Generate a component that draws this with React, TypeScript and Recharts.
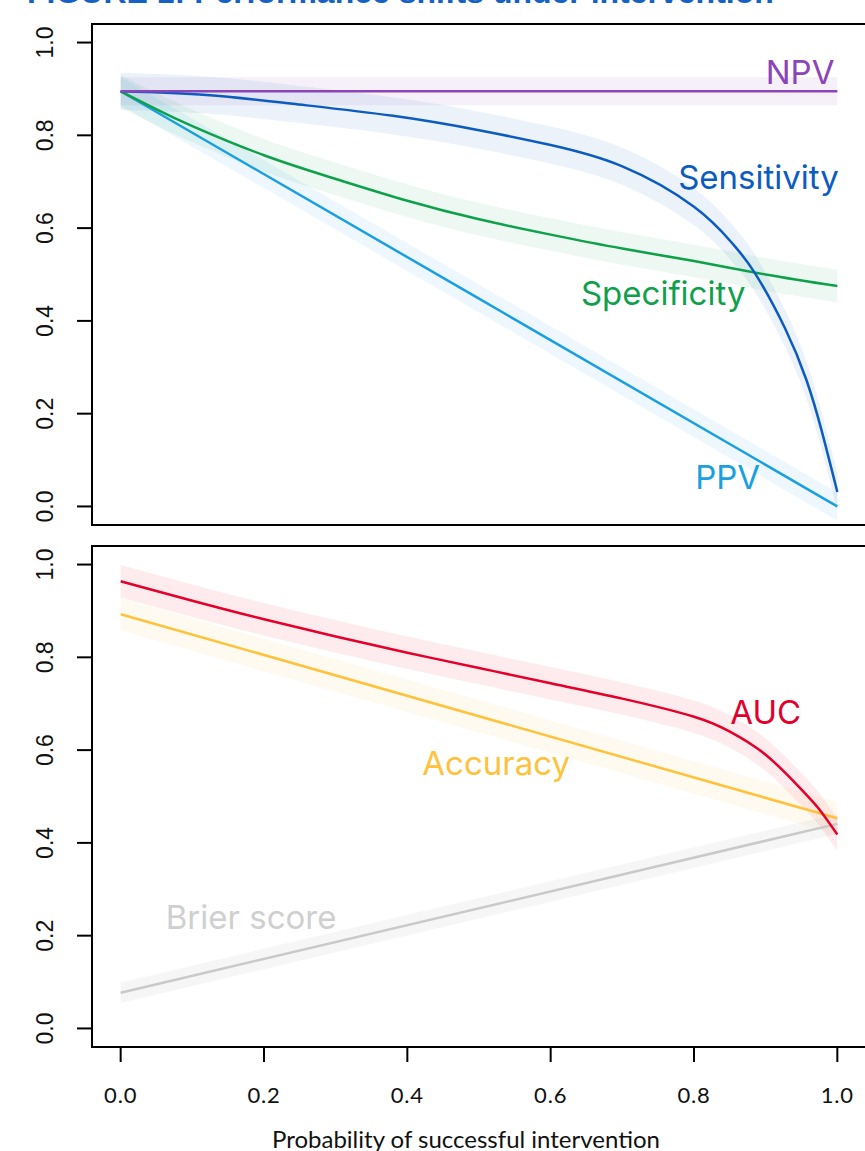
import React from 'react';
import { ComposedChart, Line, Area, XAxis, YAxis, ReferenceArea, ReferenceDot } from 'recharts';

const xTicks = [0, 0.2, 0.4, 0.6, 0.8, 1.0];
const yTicks = [0, 0.2, 0.4, 0.6, 0.8, 1.0];

// top panel
const npvX = [0, 0.25, 0.5, 0.75, 1];
const npvY = [0.895, 0.895, 0.895, 0.895, 0.895];
const sensX = [0, 0.12, 0.24, 0.38, 0.5, 0.6, 0.7, 0.8, 0.853, 0.885, 0.927, 0.957, 0.978, 1];
const sensY = [0.895, 0.887, 0.868, 0.842, 0.811, 0.779, 0.733, 0.646, 0.568, 0.503, 0.384, 0.272, 0.164, 0.031];
const specX = [0, 0.05, 0.1, 0.2, 0.3, 0.4, 0.5, 0.6, 0.7, 0.8, 0.9, 1];
const specY = [0.895, 0.856, 0.82, 0.757, 0.706, 0.659, 0.619, 0.586, 0.556, 0.529, 0.5, 0.475];
const ppvX = [0, 0.5, 1];
const ppvY = [0.895, 0.448, 0];

// bottom panel
const aucX = [0, 0.1, 0.2, 0.3, 0.4, 0.5, 0.6, 0.7, 0.8, 0.85, 0.9, 0.95, 0.975, 1];
const aucY = [0.964, 0.922, 0.882, 0.845, 0.81, 0.777, 0.744, 0.711, 0.672, 0.64, 0.59, 0.515, 0.472, 0.418];
const accX = [0, 1];
const accY = [0.893, 0.453];
const brierX = [0, 1];
const brierY = [0.077, 0.441];

// rough half-width of the point cloud around each line
const spread = { npv: 0.03, sens: 0.04, spec: 0.035, ppv: 0.03, auc: 0.035, acc: 0.035, brier: 0.022 };

const build = (xs: number[], ys: number[], s: number) =>
  xs.map((x, i) => ({ x, y: ys[i], band: [ys[i] - s, ys[i] + s] }));

const C = {
  npv: '#8b45b8',
  sens: '#0b5bc0',
  spec: '#0fa04c',
  ppv: '#1a9fe0',
  auc: '#e4002b',
  acc: '#ffc23a',
  brier: '#c9c9c9',
};

const LABEL_FONT = 'Inter, "Noto Sans", sans-serif';
const DOMAIN: [number, number] = [-0.04, 1.04];

const YTick = (props: any) => {
  const { y, payload } = props;
  return (
    <text
      x={45}
      y={y}
      transform={`rotate(-90 45 ${y})`}
      textAnchor="middle"
      dominantBaseline="central"
      fontFamily="'Liberation Sans', Arial, sans-serif"
      fontWeight={400}
      fontSize={23}
      fill="#111"
    >
      {payload.value.toFixed(1)}
    </text>
  );
};

const XTick = (props: any) => {
  const { x, y, payload } = props;
  return (
    <text
      x={x}
      y={y + 30}
      textAnchor="middle"
      dominantBaseline="central"
      fontFamily="Lato, sans-serif"
      fontWeight={400}
      fontSize={22}
      letterSpacing={0.8}
      fill="#111"
    >
      {payload.value.toFixed(1)}
    </text>
  );
};

const band = (data: any[], color: string, k: string) => (
  <Area
    key={k + '-band'}
    data={data}
    dataKey="band"
    type="natural"
    stroke="none"
    fill={color}
    fillOpacity={0.08}
    isAnimationActive={false}
  />
);

const lineEl = (data: any[], color: string, k: string) => (
  <Line
    key={k}
    data={data}
    dataKey="y"
    type="natural"
    stroke={color}
    strokeWidth={2.5}
    dot={false}
    activeDot={false}
    isAnimationActive={false}
  />
);

const tag = (x: number, y: number, text: string, color: string) => (
  <ReferenceDot
    key={text}
    x={x}
    y={y}
    r={0}
    fill="none"
    stroke="none"
    label={{ value: text, position: 'center', fill: color, fontSize: 33, fontFamily: LABEL_FONT }}
  />
);

export default function App() {
  const npv = build(npvX, npvY, spread.npv);
  const sens = build(sensX, sensY, spread.sens);
  const spec = build(specX, specY, spread.spec);
  const ppv = build(ppvX, ppvY, spread.ppv);
  const auc = build(aucX, aucY, spread.auc);
  const acc = build(accX, accY, spread.acc);
  const brier = build(brierX, brierY, spread.brier);

  return (
    <div style={{ position: 'absolute', left: 0, top: 0, width: 865, height: 1151, overflow: 'hidden', background: '#fff' }}>
      <svg width={865} height={12} style={{ position: 'absolute', left: 0, top: 0 }}>
        <text x={27} y={3} fontFamily="'Liberation Sans', Arial, sans-serif" fontWeight="bold" fontSize={32} fill="#1662c4">
          FIGURE 1: Performance shifts under intervention
        </text>
      </svg>

      <div style={{ position: 'absolute', left: 0, top: 0 }}>
        <ComposedChart width={866} height={530} margin={{ top: 24, right: 0, left: 0, bottom: 5 }}>
          <XAxis type="number" dataKey="x" domain={DOMAIN} allowDataOverflow hide />
          <YAxis
            type="number"
            domain={DOMAIN}
            allowDataOverflow
            ticks={yTicks}
            width={92}
            axisLine={false}
            tickSize={15}
            tickLine={{ stroke: '#000', strokeWidth: 2 }}
            tick={<YTick />}
          />
          {band(npv, C.npv, 'npv')}
          {band(sens, C.sens, 'sens')}
          {band(spec, C.spec, 'spec')}
          {band(ppv, C.ppv, 'ppv')}
          {lineEl(ppv, C.ppv, 'ppvl')}
          {lineEl(spec, C.spec, 'specl')}
          {lineEl(sens, C.sens, 'sensl')}
          {lineEl(npv, C.npv, 'npvl')}
          <ReferenceArea x1={-0.04} x2={1.04} y1={-0.04} y2={1.04} fill="none" stroke="#000" strokeWidth={2} />
          {tag(0.948, 0.936, 'NPV', C.npv)}
          {tag(0.89, 0.71, 'Sensitivity', C.sens)}
          {tag(0.757, 0.46, 'Specificity', C.spec)}
          {tag(0.847, 0.063, 'PPV', C.ppv)}
        </ComposedChart>
      </div>

      <div style={{ position: 'absolute', left: 0, top: 522 }}>
        <ComposedChart width={866} height={629} margin={{ top: 24, right: 0, left: 0, bottom: 0 }}>
          <XAxis
            type="number"
            dataKey="x"
            domain={DOMAIN}
            allowDataOverflow
            ticks={xTicks}
            height={104}
            axisLine={false}
            tickSize={15}
            tickLine={{ stroke: '#000', strokeWidth: 2 }}
            tick={<XTick />}
          />
          <YAxis
            type="number"
            domain={DOMAIN}
            allowDataOverflow
            ticks={yTicks}
            width={92}
            axisLine={false}
            tickSize={15}
            tickLine={{ stroke: '#000', strokeWidth: 2 }}
            tick={<YTick />}
          />
          {band(auc, C.auc, 'auc')}
          {band(acc, C.acc, 'acc')}
          {band(brier, '#8a8a8a', 'brier')}
          {lineEl(brier, C.brier, 'brierl')}
          {lineEl(acc, C.acc, 'accl')}
          {lineEl(auc, C.auc, 'aucl')}
          <ReferenceArea x1={-0.04} x2={1.04} y1={-0.04} y2={1.04} fill="none" stroke="#000" strokeWidth={2} />
          {tag(0.9, 0.682, 'AUC', C.auc)}
          {tag(0.524, 0.572, 'Accuracy', C.acc)}
          {tag(0.182, 0.239, 'Brier score', '#cfcfcf')}
        </ComposedChart>
      </div>

      <svg width={865} height={30} style={{ position: 'absolute', left: 0, top: 1121 }}>
        <text x={466} y={27} textAnchor="middle" fontFamily="Lato, sans-serif" fontSize={24} fill="#111">
          Probability of successful intervention
        </text>
      </svg>
    </div>
  );
}
